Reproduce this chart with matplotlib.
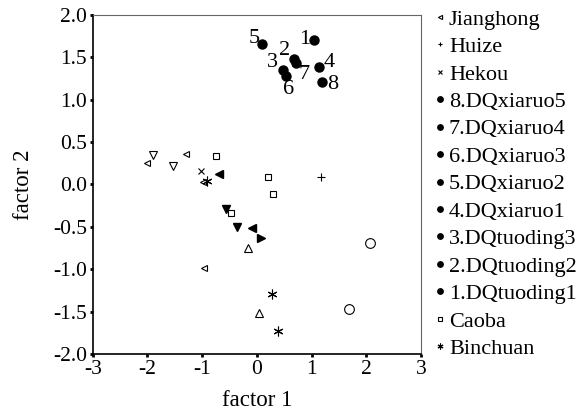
import matplotlib
matplotlib.use("Agg")
from matplotlib import pyplot as plt

plt.rcParams['font.family'] = ['Liberation Serif', 'DejaVu Serif']
plt.rcParams['axes.unicode_minus'] = False

# sample groups (factor 1, factor 2)
jianghong_x = [-2.01, -1.30, -0.98, -0.965]
jianghong_y = [0.255, 0.36, 0.03, -0.99]
huize_x = [1.17]
huize_y = [0.086]
hekou_x = [-1.02]
hekou_y = [0.165]
caoba_x = [-0.745, 0.20, 0.30, -0.47]
caoba_y = [0.333, 0.086, -0.11, -0.333]
binchuan_x = [-0.915, 0.285, 0.395]
binchuan_y = [0.04, -1.29, -1.73]

dq_names = ['8.DQxiaruo5', '7.DQxiaruo4', '6.DQxiaruo3', '5.DQxiaruo2',
            '4.DQxiaruo1', '3.DQtuoding3', '2.DQtuoding2', '1.DQtuoding1']
dq_nums = ['8', '7', '6', '5', '4', '3', '2', '1']
dq_x = [1.19, 0.71, 0.53, 0.10, 1.13, 0.47, 0.68, 1.05]
dq_y = [1.215, 1.43, 1.28, 1.655, 1.385, 1.345, 1.48, 1.70]

# groups not shown in the legend
tridown_x = [-1.90, -1.54]
tridown_y = [0.35, 0.215]
lfill_x = [-0.70, -0.08]
lfill_y = [0.126, -0.51]
dfill_x = [-0.57, -0.366]
dfill_y = [-0.294, -0.50]
rfill_x = [0.08]
rfill_y = [-0.63]
triup_x = [-0.17, 0.04]
triup_y = [-0.745, -1.52]
circ_x = [2.07, 1.69]
circ_y = [-0.69, -1.47]

label_off = {'5': (-5.5, 4), '1': (-7, 1), '2': (-6.5, 6.5), '3': (-7.5, 5.5),
             '7': (6, -8), '6': (2, -9.5), '4': (7.5, 3), '8': (7.5, -2.5)}

fig = plt.figure(figsize=(5.87, 4.16), dpi=100)
ax = fig.add_axes([0.158, 0.149, 0.559, 0.815])

k = dict(linestyle='none', color='black')
ax.plot(jianghong_x, jianghong_y, marker='<', ms=5, mfc='white', mew=0.8, label='Jianghong', **k)
ax.plot(huize_x, huize_y, marker='+', ms=6, mew=0.8, label='Huize', **k)
ax.plot(hekou_x, hekou_y, marker='x', ms=4.5, mew=0.8, label='Hekou', **k)
for name, x, y in zip(dq_names, dq_x, dq_y):
    ax.plot([x], [y], marker='o', ms=6.5, label=name, **k)
ax.plot(caoba_x, caoba_y, marker='s', ms=4.5, mfc='white', mew=0.8, label='Caoba', **k)
ax.plot(binchuan_x, binchuan_y, marker=(6, 2, 0), ms=7, mew=0.8, label='Binchuan', **k)

ax.plot(tridown_x, tridown_y, marker='v', ms=6, mfc='white', mew=0.8, **k)
ax.plot(lfill_x, lfill_y, marker='<', ms=5.5, **k)
ax.plot(dfill_x, dfill_y, marker='v', ms=5.5, **k)
ax.plot(rfill_x, rfill_y, marker='>', ms=5.5, **k)
ax.plot(triup_x, triup_y, marker='^', ms=6, mfc='white', mew=0.8, **k)
ax.plot(circ_x, circ_y, marker='o', ms=7, mfc='white', mew=0.8, **k)

for n, x, y in zip(dq_nums, dq_x, dq_y):
    ax.annotate(n, (x, y), xytext=label_off[n], textcoords='offset points',
                ha='center', va='center', fontsize=16)

ax.set_xlim(-3, 3)
ax.set_ylim(-2, 2)
ax.set_xticks([-3, -2, -1, 0, 1, 2, 3])
ax.set_yticks([-2, -1.5, -1, -0.5, 0, 0.5, 1, 1.5, 2])
ax.set_yticklabels(['%.1f' % v for v in ax.get_yticks()])
ax.tick_params(labelsize=15.5, length=2.5, width=2, direction='out', pad=1.5)
ax.spines['left'].set_linewidth(1.2)
ax.spines['bottom'].set_linewidth(1.2)
ax.spines['top'].set_color('#666666')
ax.spines['right'].set_color('#666666')
ax.set_xlabel('factor 1', fontsize=16.5, labelpad=8)
ax.set_ylabel('factor 2', fontsize=16.5, labelpad=14)

fig.legend(loc='upper left', bbox_to_anchor=(0.742, 0.978), frameon=False,
           fontsize=16, labelspacing=0.31, handlelength=0.4, borderpad=0,
           handletextpad=0.2, markerscale=0.6, borderaxespad=0)

fig.savefig('out.png', dpi=100)
